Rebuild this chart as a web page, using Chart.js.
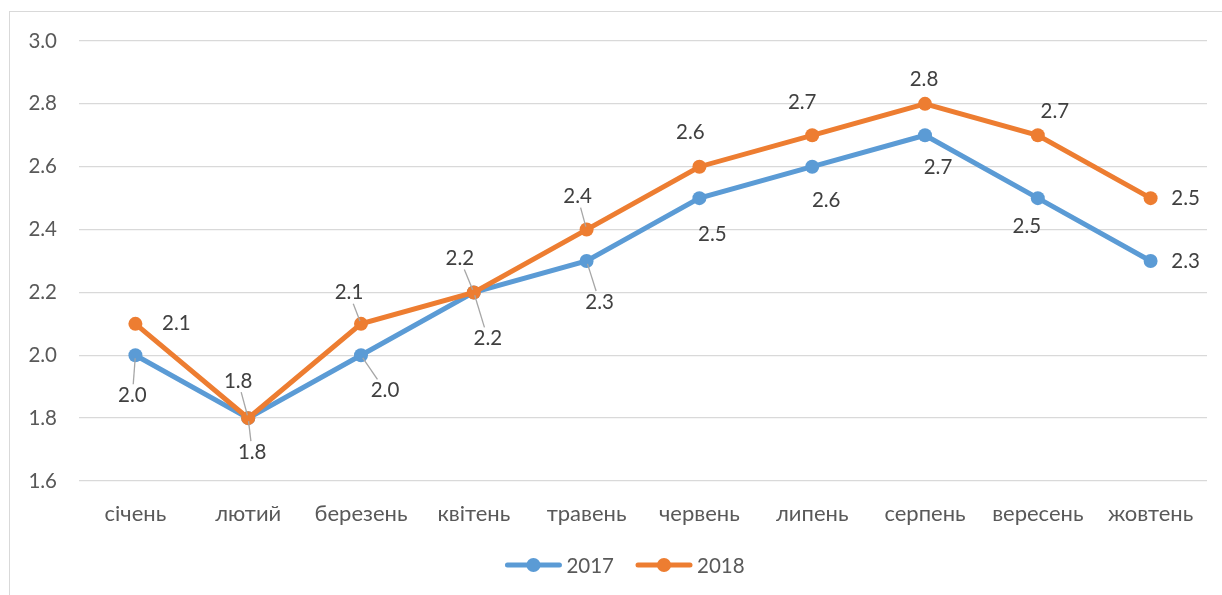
<!DOCTYPE html>
<html><head><meta charset="utf-8">
<script src="https://cdn.jsdelivr.net/npm/chart.js@4"></script>
<style>
html,body{margin:0;padding:0;background:#fff;overflow:hidden}
#wrap{position:relative;width:1222px;height:595px;overflow:hidden}
#frame{position:absolute;left:9px;top:11px;width:1240px;height:620px;border:1px solid #d9d9d9;box-sizing:border-box}
canvas{position:absolute;left:0;top:0}
</style></head><body>
<div id="wrap"><div id="frame"></div><canvas id="c" width="1222" height="595"></canvas></div>
<script>
const months = ['січень','лютий','березень','квітень','травень','червень','липень','серпень','вересень','жовтень'];
const values2017 = [2.0,1.8,2.0,2.2,2.3,2.5,2.6,2.7,2.5,2.3];
const values2018 = [2.1,1.8,2.1,2.2,2.4,2.6,2.7,2.8,2.7,2.5];
const seriesNames = ['2017','2018'];
const yMin = 1.6, yMax = 3.0, yStep = 0.2;

// label placement (text centre relative to point) and leader flag
const labelPlace = [
  [[-3,40,1],[4,34,1],[24,35,1],[14,46,1],[13,41,1],[13,36,0],[14,34,0],[13,32,0],[-11,28,0],[35,0,0]],
  [[41,0,0],[-10,-37,1],[-12,-31,1],[-14,-34,1],[-9,-33,1],[-9,-34,0],[-10,-33,0],[-1,-24,0],[17,-24,0],[35,0,0]]
];
const FONT = 'Lato, "Open Sans", sans-serif';
const colors = ['#5B9BD5','#ED7D31'];

const labelsPlugin = {
  id:'dlabels',
  afterDatasetsDraw(chart){
    const ctx = chart.ctx;
    ctx.save();
    ctx.font = '20.5px ' + FONT;
    ctx.textAlign='center'; ctx.textBaseline='middle';
    chart.data.datasets.forEach((ds,di)=>{
      const meta = chart.getDatasetMeta(di);
      meta.data.forEach((pt,i)=>{
        const [dx,dy,lead] = labelPlace[di][i];
        const txt = ds.data[i].toFixed(1);
        const cx = pt.x+dx, cy = pt.y+dy;
        if(lead){
          const w = ctx.measureText(txt).width/2+3, h = 11;
          const vx = cx-pt.x, vy = cy-pt.y;
          const tx = Math.abs(vx)>0? w/Math.abs(vx):Infinity;
          const ty = Math.abs(vy)>0? h/Math.abs(vy):Infinity;
          const t = 1-Math.min(tx,ty);
          const len = Math.hypot(vx,vy);
          const s = 3/len;
          ctx.strokeStyle='#a6a6a6'; ctx.lineWidth=1.3;
          ctx.beginPath();
          ctx.moveTo(pt.x+vx*s, pt.y+vy*s);
          ctx.lineTo(pt.x+vx*t, pt.y+vy*t);
          ctx.stroke();
        }
        ctx.fillStyle='#404040';
        ctx.fillText(txt,cx,cy);
      });
    });
    ctx.restore();
  }
};

const legendPlugin = {
  id:'mylegend',
  afterDraw(chart){
    const ctx = chart.ctx;
    ctx.save();
    ctx.font = '20.5px ' + FONT;
    ctx.textBaseline='middle'; ctx.textAlign='left';
    const ds = chart.data.datasets;
    const lineW = 56, gap = 5, itemGap = 22, y = 565;
    const widths = ds.map(d=>lineW+gap+ctx.measureText(d.label).width);
    const total = widths.reduce((a,b)=>a+b,0)+itemGap*(ds.length-1);
    let x = 625 - total/2;
    ds.forEach((d,i)=>{
      ctx.strokeStyle=d.borderColor; ctx.lineWidth=5; ctx.lineCap='round';
      ctx.beginPath(); ctx.moveTo(x+2,y); ctx.lineTo(x+lineW-2,y); ctx.stroke();
      ctx.fillStyle=d.borderColor;
      ctx.beginPath(); ctx.arc(x+lineW/2,y,7,0,Math.PI*2); ctx.fill();
      ctx.fillStyle='#595959';
      ctx.fillText(d.label,x+lineW+gap,y+1);
      x += widths[i]+itemGap;
    });
    ctx.restore();
  }
};

new Chart(document.getElementById('c'),{
  type:'line',
  data:{
    labels:months,
    datasets:[
      {label:seriesNames[0],data:values2017,borderColor:colors[0],backgroundColor:colors[0],borderWidth:5,pointRadius:7,pointHoverRadius:7,pointBorderWidth:0,order:1,tension:0},
      {label:seriesNames[1],data:values2018,borderColor:colors[1],backgroundColor:colors[1],borderWidth:5,pointRadius:7,pointHoverRadius:7,pointBorderWidth:0,order:0,tension:0}
    ]
  },
  options:{
    responsive:false, animation:false, devicePixelRatio:1,
    layout:{padding:{left:0,right:15,top:41,bottom:64}},
    plugins:{legend:{display:false},tooltip:{enabled:false}},
    scales:{
      x:{
        offset:true,
        grid:{display:false,drawTicks:false},
        border:{display:false},
        ticks:{color:'#595959',font:{family:FONT,size:22},padding:20,maxRotation:0,autoSkip:false},
        afterFit(s){s.height=50;}
      },
      y:{
        min:yMin,max:yMax,
        grid:{color:'#d9d9d9',lineWidth:1.3,drawTicks:false},
        border:{display:false},
        ticks:{stepSize:yStep,color:'#595959',font:{family:FONT,size:20.5},padding:22,callback:v=>v.toFixed(1)},
        afterFit(s){s.width=79;}
      }
    }
  },
  plugins:[labelsPlugin,legendPlugin]
});
</script>
</body></html>
